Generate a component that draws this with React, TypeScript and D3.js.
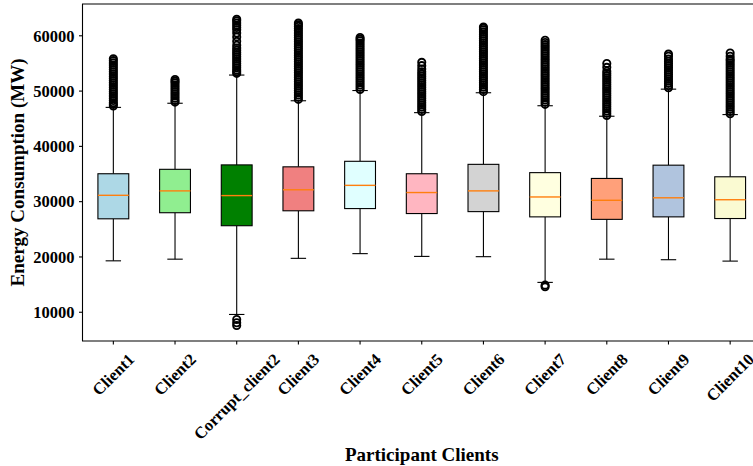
import React, { useRef, useEffect } from "react";
import * as d3 from "d3";

// participant names, in drawing order
const clients = [
  "Client1", "Client2", "Corrupt_client2", "Client3", "Client4", "Client5",
  "Client6", "Client7", "Client8", "Client9", "Client10",
];
const boxColors = [
  "#add8e6", "#90ee90", "#008000", "#f08080", "#e0ffff", "#ffb6c1",
  "#d3d3d3", "#ffffe0", "#ffa07a", "#b0c4de", "#fafad2",
];

// box statistics (MW)
const q1 = [26900, 28000, 25650, 28350, 28750, 27850, 28200, 27250, 26800, 27250, 26950];
const medians = [31150, 31950, 31100, 32150, 32950, 31650, 31950, 30850, 30250, 30700, 30350];
const q3 = [35050, 35850, 36650, 36300, 37300, 35050, 36750, 35250, 34200, 36600, 34500];
const whiskerLow = [19300, 19600, 9600, 19750, 20600, 20100, 20050, 15400, 19600, 19500, 19250];
const whiskerHigh = [47050, 47800, 52900, 48250, 50100, 46100, 49700, 47350, 45450, 50350, 45750];

// fliers (MW) per client
const fliers: number[][] = [
  [47300, 47600, 47900, 48300, 48700, 49100, 49500, 49900, 50300, 50700, 51100, 51500, 51900,
    52300, 52700, 53100, 53500, 53900, 54300, 54700, 55100, 55500, 55850],
  [48000, 48300, 48700, 49100, 49500, 49900, 50300, 50700, 51100, 51500, 51800, 52100],
  [7600, 8100, 8700,
    53200, 53500, 53800, 54200, 54600, 55000, 55400, 55800, 56200, 56600, 57000, 57400, 57800,
    58300, 59000, 59800, 60500, 61100, 61500, 61900, 62300, 62700, 63000],
  [48500, 48900, 49300, 49700, 50100, 50500, 50900, 51300, 51700, 52100, 52500, 52900, 53300,
    53700, 54100, 54500, 54900, 55300, 55700, 56100, 56500, 56900, 57300, 57700, 58100, 58500,
    58900, 59300, 59700, 60100, 60500, 60900, 61300, 61700, 62000, 62300],
  [50300, 50700, 51100, 51500, 51900, 52300, 52700, 53100, 53500, 53900, 54300, 54700, 55100,
    55500, 55900, 56300, 56700, 57100, 57500, 57900, 58300, 58700, 59100, 59400, 59700],
  [46300, 46700, 47100, 47500, 47900, 48300, 48700, 49100, 49500, 49900, 50300, 50700, 51100,
    51500, 51900, 52300, 52700, 53100, 53500, 54000, 54600, 55200],
  [49900, 50300, 50700, 51100, 51500, 51900, 52300, 52700, 53100, 53500, 53900, 54300, 54700,
    55100, 55500, 55900, 56300, 56700, 57100, 57500, 57900, 58300, 58700, 59100, 59500, 59900,
    60300, 60700, 61100, 61400, 61600],
  [14600, 14900,
    47600, 48000, 48400, 48800, 49200, 49600, 50000, 50400, 50800, 51200, 51600, 52000, 52400,
    52800, 53200, 53600, 54000, 54400, 54800, 55200, 55600, 56000, 56400, 56800, 57200, 57600,
    58000, 58400, 58800, 59200],
  [45600, 46000, 46400, 46800, 47200, 47600, 48000, 48400, 48800, 49200, 49600, 50000, 50400,
    50800, 51200, 51600, 52000, 52400, 52800, 53200, 53600, 54300, 55000],
  [50600, 51000, 51400, 51800, 52200, 52600, 53000, 53400, 53800, 54200, 54600, 55000, 55400,
    55800, 56300, 56700],
  [45900, 46300, 46700, 47100, 47500, 47900, 48300, 48700, 49100, 49500, 49900, 50300, 50700,
    51100, 51500, 51900, 52300, 52700, 53100, 53500, 53900, 54300, 54700, 55100, 55500, 55800,
    56300, 56900],
];

const yTicks = [10000, 20000, 30000, 40000, 50000, 60000];

const width = 753;
const height = 466;
const plot = { left: 82.5, right: 761, top: 4, bottom: 341 };
const font = "'Liberation Serif', 'Times New Roman', serif";

const App = () => {
  const svgRef = useRef<SVGSVGElement>(null);

  useEffect(() => {
    const svg = d3.select(svgRef.current);
    svgRef.current!.querySelectorAll("*").forEach((n) => n.remove());

    const xScale = d3.scaleBand().domain(clients).range([plot.left, plot.right]).padding(0);
    const bw = xScale.bandwidth();
    const cx = (name: string) => (xScale(name) as number) + bw / 2;

    const yScale = d3.scaleLinear().domain([4800, 65750]).range([plot.bottom, plot.top]);

    const g = svg.append("g");
    const boxW = bw * 0.5;
    const capW = boxW * 0.5;

    clients.forEach((name, i) => {
      const x = cx(name);
      // whiskers
      g.append("line")
        .attr("x1", x).attr("x2", x)
        .attr("y1", yScale(q1[i])).attr("y2", yScale(whiskerLow[i]))
        .attr("stroke", "#000").attr("stroke-width", 1.1);
      g.append("line")
        .attr("x1", x).attr("x2", x)
        .attr("y1", yScale(q3[i])).attr("y2", yScale(whiskerHigh[i]))
        .attr("stroke", "#000").attr("stroke-width", 1.1);
      // caps
      [whiskerLow[i], whiskerHigh[i]].forEach((v) => {
        g.append("line")
          .attr("x1", x - capW / 2).attr("x2", x + capW / 2)
          .attr("y1", yScale(v)).attr("y2", yScale(v))
          .attr("stroke", "#000").attr("stroke-width", 1.1);
      });
      // box
      g.append("rect")
        .attr("x", x - boxW / 2)
        .attr("y", yScale(q3[i]))
        .attr("width", boxW)
        .attr("height", yScale(q1[i]) - yScale(q3[i]))
        .attr("fill", boxColors[i])
        .attr("stroke", "#000")
        .attr("stroke-width", 1.1);
      // median
      g.append("line")
        .attr("x1", x - boxW / 2).attr("x2", x + boxW / 2)
        .attr("y1", yScale(medians[i])).attr("y2", yScale(medians[i]))
        .attr("stroke", "#ff7f0e").attr("stroke-width", 1.4);
      // fliers
      g.selectAll(null)
        .data(fliers[i])
        .join("circle")
        .attr("cx", x)
        .attr("cy", (d) => yScale(d))
        .attr("r", 3.6)
        .attr("fill", "none")
        .attr("stroke", "#000")
        .attr("stroke-width", 1.9);
    });

    // frame (right edge falls outside the picture)
    svg.append("path")
      .attr("d", `M${plot.right},${plot.top}H${plot.left}V${plot.bottom}H${plot.right}`)
      .attr("fill", "none")
      .attr("stroke", "#000")
      .attr("stroke-width", 1.1);

    // y axis ticks
    const yAxis = svg.append("g");
    yTicks.forEach((t) => {
      const y = yScale(t);
      yAxis.append("line")
        .attr("x1", plot.left - 3.5).attr("x2", plot.left)
        .attr("y1", y).attr("y2", y)
        .attr("stroke", "#000").attr("stroke-width", 1.1);
      yAxis.append("text")
        .attr("x", plot.left - 8)
        .attr("y", y)
        .attr("dy", "0.35em")
        .attr("text-anchor", "end")
        .attr("font-family", font)
        .attr("font-weight", "bold")
        .attr("font-size", 16.5)
        .text(String(t));
    });

    // x axis ticks + rotated labels
    const xAxis = svg.append("g");
    const fs = 16.5;
    clients.forEach((name) => {
      const x = cx(name);
      xAxis.append("line")
        .attr("x1", x).attr("x2", x)
        .attr("y1", plot.bottom).attr("y2", plot.bottom + 3.5)
        .attr("stroke", "#000").attr("stroke-width", 1.1);
      const t = xAxis.append("text")
        .attr("text-anchor", "middle")
        .attr("dominant-baseline", "central")
        .attr("font-family", font)
        .attr("font-weight", "bold")
        .attr("font-size", fs)
        .text(name);
      const w = (t.node() as SVGTextElement).getComputedTextLength();
      const h = fs * 1.1;
      const s = (w + h) / Math.SQRT2;
      const top = plot.bottom + 9;
      t.attr("transform", `translate(${x},${top + s / 2}) rotate(-45)`);
    });

    // axis titles
    svg.append("text")
      .attr("x", (plot.left + plot.right) / 2)
      .attr("y", 461)
      .attr("text-anchor", "middle")
      .attr("font-family", font)
      .attr("font-weight", "bold")
      .attr("font-size", 19)
      .text("Participant Clients");

    svg.append("text")
      .attr("transform", `translate(24,${(plot.top + plot.bottom) / 2}) rotate(-90)`)
      .attr("text-anchor", "middle")
      .attr("font-family", font)
      .attr("font-weight", "bold")
      .attr("font-size", 19)
      .text("Energy Consumption (MW)");
  }, []);

  return (
    <div style={{ position: "fixed", left: 0, top: 0 }}>
      <svg ref={svgRef} width={width} height={height} style={{ display: "block", background: "#fff" }} />
    </div>
  );
};

export default App;
